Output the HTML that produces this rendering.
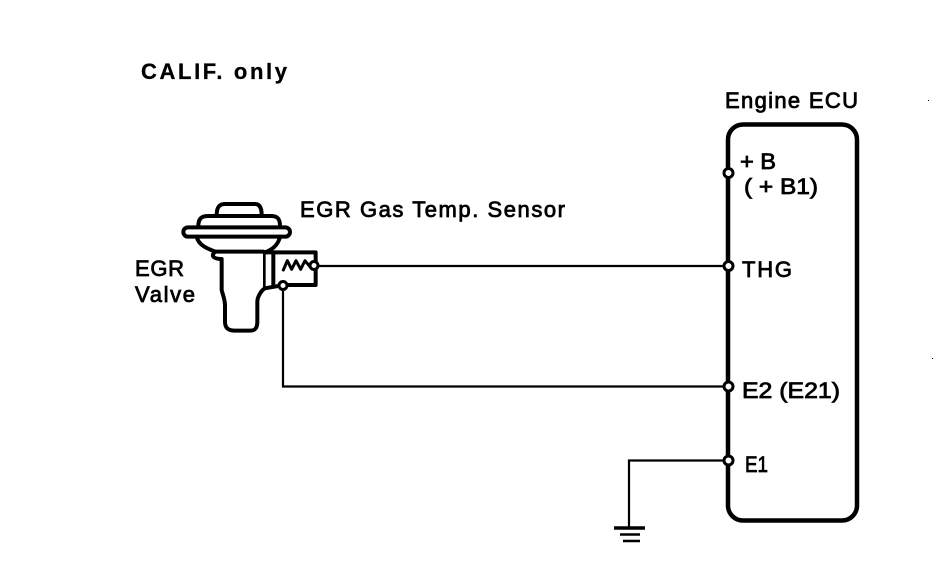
<!DOCTYPE html>
<html>
<head>
<meta charset="utf-8">
<style>
html,body{margin:0;padding:0;background:#fff;width:944px;height:572px;overflow:hidden}
svg{display:block}
text{font-family:"Liberation Sans",sans-serif;font-size:22px;fill:#000;font-weight:normal;stroke:#000;stroke-width:.8px}
.b{font-weight:bold;stroke-width:.3px}
</style>
</head>
<body>
<svg width="944" height="572" viewBox="0 0 944 572" xmlns="http://www.w3.org/2000/svg">
<rect width="944" height="572" fill="#fff"/>
<text class="b" x="141" y="79" textLength="146" lengthAdjust="spacing">CALIF. only</text>
<text x="725" y="108" textLength="133" lengthAdjust="spacing">Engine ECU</text>
<text x="300" y="217" textLength="265" lengthAdjust="spacing">EGR Gas Temp. Sensor</text>
<text x="135" y="276" textLength="49" lengthAdjust="spacing">EGR</text>
<text x="135" y="302" textLength="60" lengthAdjust="spacing">Valve</text>
<text x="740" y="169" textLength="36" lengthAdjust="spacingAndGlyphs">+ B</text>
<text x="744" y="194" textLength="74" lengthAdjust="spacingAndGlyphs">( + B1)</text>
<text x="742" y="277" textLength="50" lengthAdjust="spacing">THG</text>
<text x="742" y="398" textLength="98" lengthAdjust="spacingAndGlyphs">E2 (E21)</text>
<text x="745" y="472" textLength="23" lengthAdjust="spacingAndGlyphs">E1</text>

<!-- ECU box -->
<rect x="728" y="124.500" width="129" height="396" rx="15" fill="none" stroke="#000" stroke-width="4.500"/>

<!-- wires -->
<g fill="none" stroke="#000" stroke-width="2.200">
<path d="M317 266H728"/>
<path d="M283 289V386.500H728"/>
<path d="M728 460.500H629V527"/>
</g>
<!-- ground -->
<g stroke="#000" fill="none">
<path d="M614 528H645" stroke-width="3.500"/>
<path d="M620 534.500H640" stroke-width="2.500"/>
<path d="M623 541H640" stroke-width="2.500"/>
</g>

<!-- EGR valve -->
<g transform="translate(170 190) scale(.3333)" fill="none" stroke="#000" stroke-width="12" stroke-linejoin="round" stroke-linecap="round">
<path d="M140 75C140 50 150 42 165 42H255C270 42 275 55 275 75"/>
<path d="M85 108C85 85 95 78 115 78H305C325 78 330 90 330 108"/>
<rect x="40" y="112" width="320" height="28" rx="14"/>
<path d="M80 140C85 165 110 175 135 185H280"/>
<path d="M330 140C325 165 305 180 285 187H437V222"/>
<path d="M135 185C125 195 125 205 150 207H155V300C160 320 165 330 165 345V395C165 415 175 422 195 422H240C255 422 262 415 262 395V335C262 320 275 300 285 295L330 287"/>
<path d="M283 190V290" stroke-width="8"/>
<path d="M310 190V285"/>
<path d="M437 238V285H345"/>
<path d="M340 240L352 212L365 238L378 212L392 238L405 212L420 230" stroke-width="9"/>
</g>

<!-- terminals -->
<g fill="#fff" stroke="#000" stroke-width="3">
<circle cx="314" cy="265.500" r="4"/>
<circle cx="283" cy="285.500" r="4"/>
<circle cx="728.500" cy="173" r="4.500"/>
<circle cx="728.500" cy="266" r="4.500"/>
<circle cx="728.500" cy="386.500" r="4.500"/>
<circle cx="728.500" cy="460.500" r="4.500"/>
</g>
<!-- scan specks -->
<rect x="928" y="100" width="1" height="1" fill="#000"/>
<rect x="932" y="358" width="1" height="1" fill="#000"/>
</svg>
</body>
</html>
